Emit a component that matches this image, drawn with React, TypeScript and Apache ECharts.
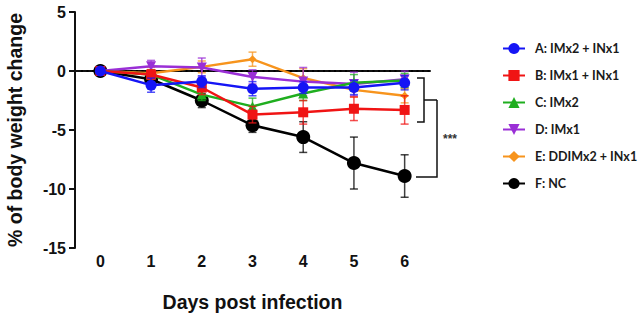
import React, { useEffect, useRef } from "react";
import * as echarts from "echarts";

const days = ["0", "1", "2", "3", "4", "5", "6"];
const yTicks = [-15, -10, -5, 0, 5];
const baseline = [0];

const seriesNames = [
  "A: IMx2 + INx1",
  "B: IMx1 + INx1",
  "C: IMx2",
  "D: IMx1",
  "E: DDIMx2 + INx1",
  "F: NC",
];

const meanA = [0, -1.2, -0.9, -1.5, -1.4, -1.4, -1.0];
const meanB = [0, -0.3, -1.4, -3.7, -3.5, -3.2, -3.3];
const meanC = [0, -0.3, -2.0, -3.0, -1.9, -1.0, -0.8];
const meanD = [0, 0.4, 0.3, -0.5, -0.9, -1.1, -0.7];
const meanE = [0, -0.2, 0.35, 1.0, -0.6, -1.6, -2.1];
const meanF = [0, -0.7, -2.5, -4.6, -5.6, -7.8, -8.9];

const errA = [0, 0.6, 0.5, 0.6, 0.5, 0.6, 0.6];
const errB = [0, 0.4, 0.6, 0.7, 1.0, 1.0, 1.2];
const errC = [0, 0.4, 0.5, 0.7, 0.6, 0.7, 0.6];
const errD = [0, 0.5, 0.8, 0.6, 1.2, 1.0, 0.7];
const errE = [0, 0.5, 0.5, 0.6, 0.8, 0.6, 0.6];
const errF = [0, 0.5, 0.6, 0.6, 1.3, 2.2, 1.8];

const colors = ["#1515f5", "#f01414", "#1fae1f", "#9a2fd6", "#f7941d", "#000000"];
const symbols = [
  "circle",
  "rect",
  "triangle",
  "path://M0,0 L10,0 L5,10 Z",
  "diamond",
  "circle",
];
const symbolSizes = [11, 10, 10, 10, 8, 14];

const means = [meanA, meanB, meanC, meanD, meanE, meanF];
const errs = [errA, errB, errC, errD, errE, errF];

const AXIS_FONT = "'Liberation Sans', Arial, sans-serif";

export default function App() {
  const ref = useRef<HTMLDivElement>(null);

  useEffect(() => {
    document.body.style.margin = "0";
    const chart = echarts.init(ref.current!, undefined, { renderer: "svg" });

    const lineSeries: any[] = [];
    const errSeries: any[] = [];
    for (let k = 0; k < 6; k++) {
      const z = 10 - k;
      lineSeries.push({
        name: seriesNames[k],
        type: "line",
        data: means[k],
        symbol: symbols[k],
        symbolSize: symbolSizes[k],
        showAllSymbol: true,
        z,
        lineStyle: { color: colors[k], width: 2.5 },
        itemStyle: { color: colors[k] },
      });
      errSeries.push({
        type: "custom",
        name: "err" + k,
        z,
        data: means[k].map((m, i) => [i, m, errs[k][i]]),
        encode: { x: 0, y: 1 },
        renderItem: (params: any, api: any) => {
          const i = api.value(0);
          const m = api.value(1);
          const e = api.value(2);
          if (!e) return null;
          const top = api.coord([i, m + e]);
          const bot = api.coord([i, m - e]);
          const hw = 4;
          const style = { stroke: colors[k], lineWidth: 1.5, opacity: 0.75 };
          return {
            type: "group",
            children: [
              { type: "line", shape: { x1: top[0], y1: top[1], x2: bot[0], y2: bot[1] }, style },
              { type: "line", shape: { x1: top[0] - hw, y1: top[1], x2: top[0] + hw, y2: top[1] }, style },
              { type: "line", shape: { x1: bot[0] - hw, y1: bot[1], x2: bot[0] + hw, y2: bot[1] }, style },
            ],
          };
        },
      });
    }

    const baselineSeries = {
      type: "custom",
      name: "baseline",
      z: 1,
      silent: true,
      data: baseline.map((v) => [0, v]),
      encode: { x: 0, y: 1 },
      renderItem: (params: any, api: any) => {
        const cs = params.coordSys;
        const y = api.coord([0, api.value(1)])[1];
        const dots: any[] = [];
        for (let x = cs.x + 7; x <= cs.x + cs.width - 1; x += 5.5) {
          dots.push({
            type: "rect",
            shape: { x: x - 1, y: y - 1, width: 2, height: 2 },
            style: { fill: "#000" },
          });
        }
        return { type: "group", children: dots };
      },
    };

    const br = { stroke: "#111", lineWidth: 1.5, fill: null };

    chart.setOption({
      animation: false,
      grid: { left: 75, right: 210, top: 12, bottom: 67, containLabel: false, outerBoundsMode: "none" },
      xAxis: {
        type: "category",
        data: days,
        boundaryGap: true,
        name: "Days post infection",
        nameLocation: "middle",
        nameGap: 44,
        nameTextStyle: { fontFamily: AXIS_FONT, fontWeight: "bold", fontSize: 19.5, color: "#111" },
        axisLine: { lineStyle: { color: "#111", width: 2 } },
        axisTick: { alignWithLabel: true, length: 6, lineStyle: { color: "#111", width: 2 } },
        axisLabel: { fontFamily: AXIS_FONT, fontWeight: "bold", fontSize: 16, color: "#111", margin: 5 },
        splitLine: { show: false },
      },
      yAxis: {
        type: "value",
        min: yTicks[0],
        max: yTicks[yTicks.length - 1],
        interval: 5,
        name: "% of body weight change",
        nameLocation: "middle",
        nameGap: 50,
        nameTextStyle: { fontFamily: AXIS_FONT, fontWeight: "bold", fontSize: 19.5, color: "#111" },
        axisLine: { show: true, lineStyle: { color: "#111", width: 2 } },
        axisTick: { show: true, length: 6, lineStyle: { color: "#111", width: 2 } },
        axisLabel: { fontFamily: AXIS_FONT, fontWeight: "bold", fontSize: 16, color: "#111", margin: 9 },
        splitLine: { show: false },
      },
      legend: {
        orient: "vertical",
        left: 497,
        top: 37,
        itemWidth: 22,
        itemHeight: 14,
        itemGap: 14,
        data: seriesNames,
        textStyle: {
          fontFamily: "Lato, 'Open Sans', sans-serif",
          fontWeight: "bold",
          fontSize: 12.5,
          color: "#1a1a1a",
          padding: [0, 0, 0, 5],
        },
      },
      graphic: [
        { type: "polyline", shape: { points: [[417, 78], [424, 78], [424, 122], [417, 122]] }, style: br },
        { type: "line", shape: { x1: 424, y1: 100, x2: 437, y2: 100 }, style: br },
        { type: "polyline", shape: { points: [[437, 100], [437, 177], [416, 177]] }, style: br },
        {
          type: "text",
          x: 450,
          y: 139,
          style: {
            text: "***",
            fontSize: 12,
            fontWeight: "bold",
            fontFamily: AXIS_FONT,
            fill: "#333",
            align: "center",
            verticalAlign: "middle",
          },
        },
      ],
      series: [baselineSeries, ...lineSeries, ...errSeries],
    });

    return () => chart.dispose();
  }, []);

  return <div ref={ref} style={{ width: 640, height: 315 }} />;
}
